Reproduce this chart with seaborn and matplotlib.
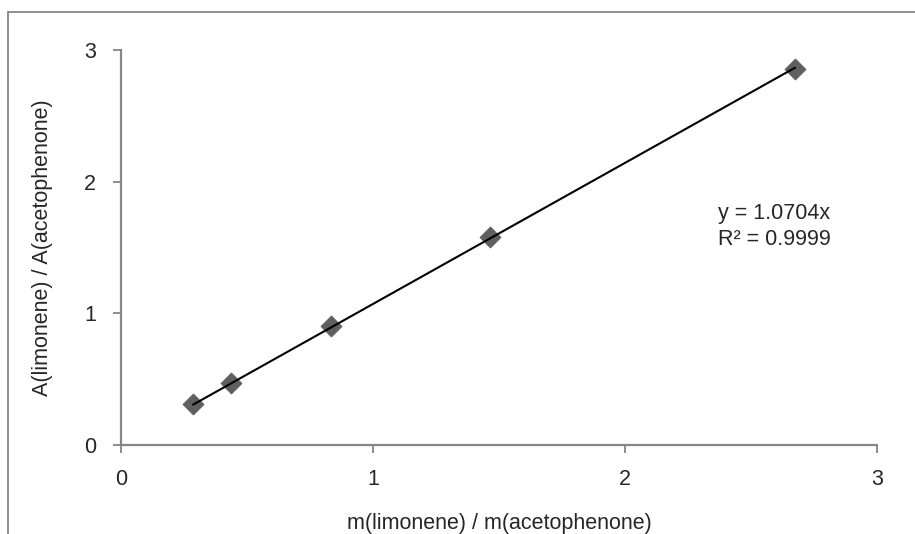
import numpy as np
import matplotlib
matplotlib.use('Agg')
import matplotlib.pyplot as plt
import seaborn as sns

# mass ratio vs area ratio (calibration)
mass_ratio = [0.286, 0.437, 0.833, 1.464, 2.675]
area_ratio = [0.31, 0.47, 0.904, 1.58, 2.855]
ticks = [0, 1, 2, 3]
eq_text = 'y = 1.0704x\nR² = 0.9999'

sns.set_style('white')
plt.rcParams['font.family'] = ['Liberation Sans', 'DejaVu Sans']
fs = 15.5

fig = plt.figure(figsize=(9.15, 5.34), dpi=100)
ax = fig.add_axes([121 / 915, 1 - 445 / 534, (877 - 121) / 915, (445 - 50) / 534])

# outer chart border (cropped on right and bottom)
fig.add_artist(plt.Line2D([8 / 915, 8 / 915], [0, 1 - 12 / 534], transform=fig.transFigure,
                          color='#868686', lw=1.3))
fig.add_artist(plt.Line2D([8 / 915, 1], [1 - 12 / 534, 1 - 12 / 534], transform=fig.transFigure,
                          color='#868686', lw=1.3))

# trendline through origin
x = np.array(mass_ratio)
y = np.array(area_ratio)
slope = (x * y).sum() / (x * x).sum()
xl = np.array([x.min(), x.max()])
sns.lineplot(x=xl, y=slope * xl, ax=ax, color='black', lw=1.5, zorder=3)

sns.scatterplot(x=mass_ratio, y=area_ratio, ax=ax, marker='D', s=110,
                color='#5f5f5f', edgecolor='#5f5f5f', zorder=2)

ax.set_xlim(0, 3)
ax.set_ylim(0, 3)
ax.set_xticks(ticks)
ax.set_yticks(ticks)
ax.set_xticklabels([str(t) for t in ticks])
ax.set_yticklabels([str(t) for t in ticks])
ax.tick_params(axis='both', length=6, width=1.3, color='#868686', labelsize=fs,
               direction='out', bottom=True, left=True)
ax.tick_params(axis='y', pad=12)
ax.tick_params(axis='x', pad=11)
for side in ['top', 'right']:
    ax.spines[side].set_visible(False)
for side in ['left', 'bottom']:
    ax.spines[side].set_color('#868686')
    ax.spines[side].set_linewidth(1.6)

ax.set_xlabel('m(limonene) / m(acetophenone)', fontsize=fs, labelpad=17)
ax.set_ylabel('A(limonene) / A(acetophenone)', fontsize=fs, labelpad=22)

ax.text(2.37, 1.66, eq_text, fontsize=fs, ha='left', va='center', linespacing=1.3)

fig.savefig('out.png', dpi=100)
